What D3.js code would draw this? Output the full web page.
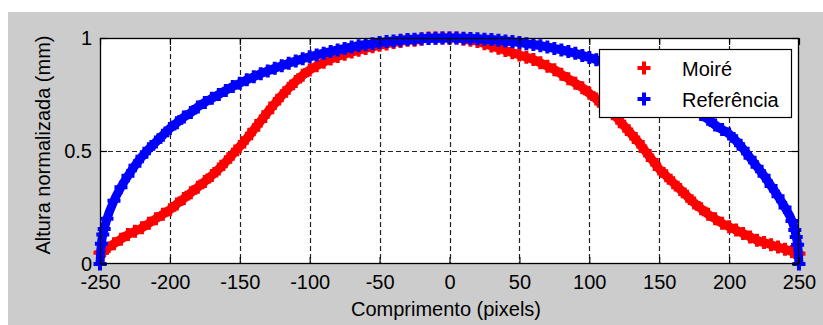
<!DOCTYPE html>
<html>
<head>
<meta charset="utf-8">
<script src="https://cdn.jsdelivr.net/npm/d3@7/dist/d3.min.js"></script>
<style>
  body { margin: 0; background: #fff; }
  svg { display: block; font-family: "Liberation Sans", Arial, sans-serif; }
</style>
</head>
<body>
<svg id="chart" width="823" height="325"></svg>
<script>
'use strict';

// positions along the profile (pixels)
var positions = [
  -250, -249, -248, -247,
  -245, -240, -235, -230, -225, -220, -215, -210, -205,
  -200, -195, -190, -185, -180, -175, -170, -165, -160, -155,
  -150, -145, -140, -135, -130, -125, -120, -115, -110, -105,
  -100, -95, -90, -85, -80, -75, -70, -65, -60, -55,
  -50, -45, -40, -35, -30, -25, -20, -15, -10, -5,
  0, 5, 10, 15, 20, 25, 30, 35, 40, 45,
  50, 55, 60, 65, 70, 75, 80, 85, 90, 95,
  100, 105, 110, 115, 120, 125, 130, 135, 140, 145,
  150, 155, 160, 165, 170, 175, 180, 185, 190, 195,
  200, 205, 210, 215, 220, 225, 230, 235, 240, 245,
  247, 248, 249, 250
];

var moire = [
  0.05, 0.052, 0.055, 0.058,
  0.07, 0.09, 0.11, 0.13, 0.145, 0.16, 0.18, 0.20, 0.22,
  0.24, 0.265, 0.29, 0.315, 0.34, 0.365, 0.392, 0.42, 0.452, 0.486,
  0.52, 0.556, 0.594, 0.633, 0.672, 0.71, 0.745, 0.778, 0.808, 0.835,
  0.858, 0.877, 0.893, 0.907, 0.918, 0.928, 0.938, 0.946, 0.954, 0.961,
  0.968, 0.974, 0.98, 0.985, 0.99, 0.99, 0.995, 1.0, 1.0, 1.0,
  1.0, 1.0, 0.995, 0.99, 0.985, 0.975, 0.965, 0.955, 0.945, 0.935,
  0.925, 0.915, 0.905, 0.89, 0.875, 0.86, 0.84, 0.82, 0.80, 0.78,
  0.755, 0.73, 0.70, 0.675, 0.645, 0.61, 0.575, 0.54, 0.50, 0.46,
  0.42, 0.39, 0.36, 0.33, 0.30, 0.27, 0.245, 0.22, 0.20, 0.18,
  0.165, 0.15, 0.135, 0.12, 0.105, 0.095, 0.085, 0.075, 0.065, 0.055,
  0.052, 0.05, 0.048, 0.045
];

var referencia = [
  0, 0.09, 0.13, 0.155,
  0.20, 0.28, 0.34, 0.39, 0.435, 0.475, 0.51, 0.54, 0.57,
  0.60, 0.625, 0.65, 0.67, 0.695, 0.715, 0.733, 0.75, 0.768, 0.785,
  0.80, 0.815, 0.828, 0.842, 0.854, 0.866, 0.877, 0.888, 0.898, 0.908,
  0.917, 0.925, 0.933, 0.94, 0.947, 0.954, 0.96, 0.966, 0.971, 0.975,
  0.98, 0.984, 0.987, 0.99, 0.993, 0.995, 0.997, 0.998, 0.999, 1.0,
  1.0, 1.0, 0.999, 0.998, 0.997, 0.995, 0.993, 0.99, 0.987, 0.984,
  0.98, 0.975, 0.971, 0.966, 0.96, 0.954, 0.947, 0.94, 0.932, 0.923,
  0.914, 0.904, 0.893, 0.881, 0.868, 0.854, 0.839, 0.823, 0.81, 0.795,
  0.78, 0.765, 0.745, 0.725, 0.705, 0.685, 0.662, 0.64, 0.615, 0.595,
  0.575, 0.545, 0.51, 0.47, 0.43, 0.39, 0.345, 0.30, 0.25, 0.19,
  0.15, 0.12, 0.085, 0
];

var xTicks = [-250, -200, -150, -100, -50, 0, 50, 100, 150, 200, 250];
var yTicks = [0, 0.5, 1];

var series = [
  {key: 'Moiré', values: moire, color: '#ff0000'},
  {key: 'Referência', values: referencia, color: '#0000ff'}
];

var svg = d3.select('#chart');

// figure background
svg.append('rect')
  .attr('x', 8).attr('y', 12)
  .attr('width', 815).attr('height', 313)
  .attr('fill', '#cccccc');

var x = d3.scaleLinear().domain([-250, 250]).range([100, 799]);
var y = d3.scaleLinear().domain([0, 1]).range([264, 38]);

svg.append('rect')
  .attr('x', 100).attr('y', 38)
  .attr('width', 699).attr('height', 226)
  .attr('fill', '#fff');

// dashed grid
var grid = svg.append('g')
  .attr('stroke', '#222')
  .attr('stroke-width', 1.2)
  .attr('stroke-dasharray', '5,3');
grid.selectAll('line.v')
  .data(xTicks.slice(1, -1))
  .enter().append('line')
  .attr('class', 'v')
  .attr('x1', function(d) { return Math.round(x(d)) + 0.5; })
  .attr('x2', function(d) { return Math.round(x(d)) + 0.5; })
  .attr('y1', 38).attr('y2', 264);
grid.selectAll('line.h')
  .data(yTicks.slice(1, -1))
  .enter().append('line')
  .attr('class', 'h')
  .attr('y1', function(d) { return Math.round(y(d)) + 0.5; })
  .attr('y2', function(d) { return Math.round(y(d)) + 0.5; })
  .attr('x1', 100).attr('x2', 799);

var plus = 'M-6.5,0H6.5M0,-6.5V6.5';

// data: thick band + "+" markers, red first so blue sits on top
series.forEach(function(s) {
  var pts = positions.map(function(p, i) { return [p, s.values[i]]; });
  svg.append('path')
    .datum(pts)
    .attr('fill', 'none')
    .attr('stroke', s.color)
    .attr('stroke-width', 9)
    .attr('stroke-linejoin', 'round')
    .attr('d', d3.line()
      .curve(d3.curveMonotoneX)
      .x(function(d) { return x(d[0]); })
      .y(function(d) { return y(d[1]); }));
  svg.append('g').selectAll('path')
    .data(pts)
    .enter().append('path')
    .attr('transform', function(d) { return 'translate(' + x(d[0]) + ',' + y(d[1]) + ')'; })
    .attr('d', plus)
    .attr('stroke', s.color)
    .attr('stroke-width', 4);
});

// axes, ticks pointing inward like matlab
function styleAxis(g) {
  g.select('.domain').remove();
  g.selectAll('.tick line').attr('stroke', '#000').attr('stroke-width', 1.2);
  g.selectAll('.tick text').attr('fill', '#000').attr('font-size', 20);
}

svg.append('g')
  .attr('transform', 'translate(0,264)')
  .call(d3.axisBottom(x).tickValues(xTicks).tickSizeInner(-7).tickSizeOuter(0)
    .tickPadding(11).tickFormat(function(d) { return String(d); }))
  .call(styleAxis);
svg.append('g')
  .attr('transform', 'translate(0,38)')
  .call(d3.axisTop(x).tickValues(xTicks).tickSizeInner(-7).tickSizeOuter(0).tickFormat(''))
  .call(styleAxis);
svg.append('g')
  .attr('transform', 'translate(100,0)')
  .call(d3.axisLeft(y).tickValues(yTicks).tickSizeInner(-7).tickSizeOuter(0)
    .tickPadding(8).tickFormat(function(d) { return String(d); }))
  .call(styleAxis);
svg.append('g')
  .attr('transform', 'translate(799,0)')
  .call(d3.axisRight(y).tickValues(yTicks).tickSizeInner(-7).tickSizeOuter(0).tickFormat(''))
  .call(styleAxis);

// axes box
svg.append('rect')
  .attr('x', 100.5).attr('y', 38.5)
  .attr('width', 698).attr('height', 225)
  .attr('fill', 'none')
  .attr('stroke', '#000')
  .attr('stroke-width', 1.3);

svg.append('text')
  .attr('x', 446).attr('y', 316)
  .attr('text-anchor', 'middle')
  .attr('font-size', 20)
  .attr('fill', '#000')
  .text('Comprimento (pixels)');

svg.append('text')
  .attr('transform', 'translate(50,145) rotate(-90)')
  .attr('text-anchor', 'middle')
  .attr('font-size', 20)
  .attr('fill', '#000')
  .text('Altura normalizada (mm)');

// legend
var legend = svg.append('g');
legend.append('rect')
  .attr('x', 599.5).attr('y', 49.5)
  .attr('width', 192).attr('height', 68)
  .attr('fill', '#fff')
  .attr('stroke', '#000')
  .attr('stroke-width', 1.2);
series.forEach(function(s, i) {
  var ly = 68 + i * 31;
  legend.append('path')
    .attr('transform', 'translate(644,' + ly + ')')
    .attr('d', plus)
    .attr('stroke', s.color)
    .attr('stroke-width', 4);
  legend.append('text')
    .attr('x', 682).attr('y', ly + 7.5)
    .attr('font-size', 20)
    .attr('fill', '#000')
    .text(s.key);
});
</script>
</body>
</html>
